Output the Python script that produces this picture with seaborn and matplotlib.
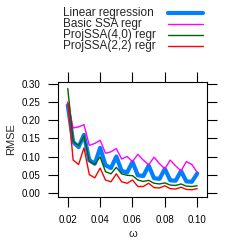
import matplotlib
matplotlib.use("Agg")
import pandas as pd
import matplotlib.pyplot as plt
from matplotlib.lines import Line2D
import seaborn as sns

omega = [0.0200, 0.0233, 0.0267, 0.0300, 0.0333, 0.0367, 0.0400, 0.0433, 0.0467,
         0.0500, 0.0533, 0.0567, 0.0600, 0.0633, 0.0667, 0.0700, 0.0733, 0.0767,
         0.0800, 0.0833, 0.0867, 0.0900, 0.0933, 0.0967, 0.1000]

linear = [0.242, 0.140, 0.126, 0.160, 0.090, 0.080, 0.124, 0.076, 0.068,
          0.100, 0.060, 0.056, 0.085, 0.048, 0.046, 0.075, 0.040, 0.038,
          0.066, 0.034, 0.033, 0.060, 0.031, 0.030, 0.053]
basic = [0.245, 0.179, 0.182, 0.188, 0.131, 0.136, 0.145, 0.109, 0.113,
         0.122, 0.093, 0.100, 0.086, 0.106, 0.090, 0.077, 0.098, 0.080,
         0.066, 0.090, 0.074, 0.060, 0.086, 0.078, 0.056]
proj40 = [0.288, 0.142, 0.130, 0.157, 0.087, 0.078, 0.099, 0.058, 0.052,
          0.070, 0.052, 0.048, 0.047, 0.035, 0.031, 0.034, 0.026, 0.024,
          0.027, 0.021, 0.020, 0.024, 0.018, 0.017, 0.019]
proj22 = [0.251, 0.090, 0.078, 0.124, 0.050, 0.041, 0.068, 0.035, 0.030,
          0.052, 0.030, 0.026, 0.035, 0.017, 0.017, 0.026, 0.014, 0.013,
          0.019, 0.011, 0.010, 0.015, 0.009, 0.008, 0.011]

methods = ["Linear regression", "Basic SSA regr", "ProjSSA(4,0) regr", "ProjSSA(2,2) regr"]
colors = ["#0080ff", "#ff00ff", "#006400", "#ff0000"]
widths = [3.0, 1.0, 1.0, 1.0]

df = pd.DataFrame({"omega": omega * 4,
                   "rmse": linear + basic + proj40 + proj22,
                   "method": [m for m in methods for _ in omega]})

sns.set_style("ticks")
plt.rcParams["font.family"] = ["Liberation Sans", "DejaVu Sans"]

fig = plt.figure(figsize=(2.42, 2.42), dpi=100)
ax = fig.add_axes([0.240, 0.186, 0.615, 0.475])

for m, c, w in zip(methods, colors, widths):
    sns.lineplot(data=df[df.method == m], x="omega", y="rmse", color=c,
                 linewidth=w, ax=ax, legend=False)

ax.set_xlim(0.014, 0.106)
ax.set_ylim(-0.012, 0.306)
ax.set_xticks([0.02, 0.04, 0.06, 0.08, 0.10])
ax.set_yticks([0.00, 0.05, 0.10, 0.15, 0.20, 0.25, 0.30])
ax.set_xticklabels(["0.02", "0.04", "0.06", "0.08", "0.10"])
ax.set_yticklabels(["0.00", "0.05", "0.10", "0.15", "0.20", "0.25", "0.30"])
ax.tick_params(direction="out", length=7, width=0.8, labelsize=7, pad=6,
               top=True, right=True, colors="black")
for s in ax.spines.values():
    s.set_linewidth(0.8)
    s.set_color("black")
ax.set_xlabel("ω", fontsize=8, labelpad=3)
ax.set_ylabel("RMSE", fontsize=8, labelpad=4)

# key above the panel: text left, line right
W = 242.0
rows_y = [12.7, 24.0, 34.7, 45.7]
for m, c, w, yy in zip(methods, colors, widths, rows_y):
    fy = 1 - yy / W
    fig.text(63 / W, fy, m, fontsize=8.5, ha="left", va="center")
    fig.add_artist(Line2D([168 / W, 203 / W], [fy, fy], color=c, linewidth=w,
                          transform=fig.transFigure))

fig.savefig("out.png", dpi=100)
